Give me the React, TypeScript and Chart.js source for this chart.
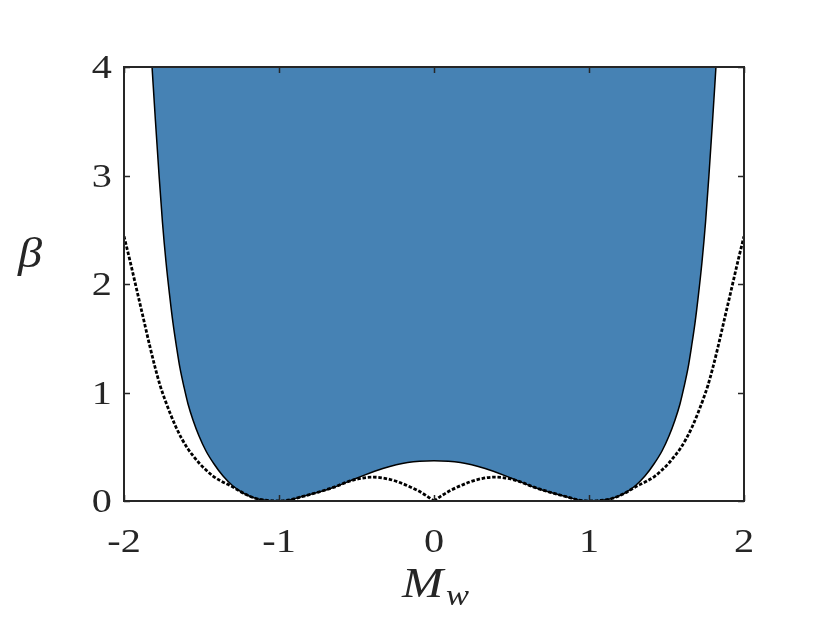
import { useEffect, useRef } from 'react';
import { Chart, registerables } from 'chart.js';

Chart.register(...registerables);

// Boundary curve (solid line, region above it is filled)
const solidM = [
  -1.819, -1.797, -1.774, -1.752, -1.729, -1.706, -1.684, -1.661, -1.639, -1.613, -1.587, -1.555,
  -1.516, -1.471, -1.419, -1.361, -1.297, -1.226, -1.148, -1.071, -1.0, -0.93, -0.865, -0.75, -0.65,
  -0.5, -0.33, -0.17, 0,
  0.17, 0.33, 0.5, 0.65, 0.75, 0.865, 0.93, 1.0, 1.071, 1.148, 1.226, 1.297, 1.361, 1.419, 1.471,
  1.516, 1.555, 1.587, 1.613, 1.639, 1.661, 1.684, 1.706, 1.729, 1.752, 1.774, 1.797, 1.819,
];
const solidBeta = [
  4.0, 3.5, 3.005, 2.571, 2.203, 1.899, 1.641, 1.419, 1.226, 1.051, 0.894, 0.747,
  0.599, 0.461, 0.341, 0.23, 0.138, 0.069, 0.023, 0.005, 0, 0.01, 0.035, 0.08, 0.125,
  0.21, 0.3, 0.355, 0.37,
  0.355, 0.3, 0.21, 0.125, 0.08, 0.035, 0.01, 0, 0.005, 0.023, 0.069, 0.138, 0.23, 0.341, 0.461,
  0.599, 0.747, 0.894, 1.051, 1.226, 1.419, 1.641, 1.899, 2.203, 2.571, 3.005, 3.5, 4.0,
];

// Dotted curve, left branch (M <= 0)
const dottedLeftM = [
  -2.0, -1.961, -1.916, -1.877, -1.832, -1.8, -1.768, -1.735, -1.703, -1.665, -1.626, -1.587,
  -1.548, -1.51, -1.471, -1.426, -1.374, -1.316, -1.226, -1.148, -1.071, -1.0, -0.93, -0.865,
  -0.75, -0.65, -0.54, -0.46, -0.39, -0.31, -0.23, -0.11, -0.05, 0,
];
const dottedLeftBeta = [
  2.44, 2.212, 1.935, 1.696, 1.419, 1.235, 1.069, 0.931, 0.811, 0.682, 0.571, 0.479,
  0.406, 0.341, 0.286, 0.23, 0.184, 0.143, 0.069, 0.023, 0.005, 0, 0.01, 0.035,
  0.08, 0.125, 0.185, 0.212, 0.22, 0.207, 0.175, 0.1, 0.05, 0,
];

// Dotted curve, right branch (M >= 0)
const dottedRightM = [
  0, 0.05, 0.11, 0.23, 0.31, 0.39, 0.46, 0.54, 0.65, 0.75, 0.865, 0.93, 1.0, 1.071, 1.148, 1.226,
  1.316, 1.374, 1.426, 1.471, 1.51, 1.548, 1.587, 1.626, 1.665, 1.703, 1.735, 1.768, 1.8, 1.832,
  1.877, 1.916, 1.961, 2.0,
];
const dottedRightBeta = [
  0, 0.05, 0.1, 0.175, 0.207, 0.22, 0.212, 0.185, 0.125, 0.08, 0.035, 0.01, 0, 0.005, 0.023, 0.069,
  0.143, 0.184, 0.23, 0.286, 0.341, 0.406, 0.479, 0.571, 0.682, 0.811, 0.931, 1.069, 1.235, 1.419,
  1.696, 1.935, 2.212, 2.44,
];

const xTickValues = [-2, -1, 0, 1, 2];
const xTickLabels = ['-2', '-1', '0', '1', '2'];
const yTickValues = [0, 1, 2, 3, 4];
const yTickLabels = ['0', '1', '2', '3', '4'];

const TEXT = '#262626';
const FILL = '#4682b4';
const SERIF = '"Liberation Serif", "DejaVu Serif", serif';

function pts(xs: number[], ys: number[]) {
  return xs.map((x, i) => ({ x, y: ys[i] }));
}

function drawStretched(
  ctx: CanvasRenderingContext2D,
  text: string,
  x: number,
  y: number,
  font: string,
  align: CanvasTextAlign,
  sx: number
) {
  ctx.save();
  ctx.translate(x, y);
  ctx.scale(sx, 1);
  ctx.font = font;
  ctx.textAlign = align;
  ctx.textBaseline = 'alphabetic';
  ctx.fillStyle = TEXT;
  ctx.fillText(text, 0, 0);
  ctx.restore();
}

const framePlugin = {
  id: 'matlabFrame',
  afterDatasetsDraw(chart: any) {
    const { ctx, chartArea, scales } = chart;
    const { left, right, top, bottom } = chartArea;
    const xs = scales.x;
    const ys = scales.y;
    ctx.save();
    ctx.strokeStyle = TEXT;
    ctx.lineWidth = 1.5;
    const tl = 6;
    ctx.beginPath();
    xTickValues.forEach((v) => {
      const px = Math.round(xs.getPixelForValue(v)) + 0.5;
      ctx.moveTo(px, bottom);
      ctx.lineTo(px, bottom - tl);
      ctx.moveTo(px, top);
      ctx.lineTo(px, top + tl);
    });
    yTickValues.forEach((v) => {
      const py = Math.round(ys.getPixelForValue(v)) + 0.5;
      ctx.moveTo(left, py);
      ctx.lineTo(left + tl, py);
      ctx.moveTo(right, py);
      ctx.lineTo(right - tl, py);
    });
    ctx.stroke();
    ctx.lineWidth = 2;
    ctx.strokeRect(left, top, right - left, bottom - top);

    const tickFont = `33px ${SERIF}`;
    xTickValues.forEach((v, i) => {
      const px = xs.getPixelForValue(v);
      drawStretched(ctx, xTickLabels[i], px, bottom + 51, tickFont, 'center', 1.22);
    });
    yTickValues.forEach((v, i) => {
      const py = ys.getPixelForValue(v);
      drawStretched(ctx, yTickLabels[i], left - 12, py + 11, tickFont, 'right', 1.22);
    });

    // axis labels
    drawStretched(ctx, 'β', 30, 267, `italic 42px ${SERIF}`, 'center', 1.15);
    drawStretched(ctx, 'M', 402, 597, `italic 43px ${SERIF}`, 'left', 1.15);
    drawStretched(ctx, 'w', 446, 605, `italic 30px ${SERIF}`, 'left', 1.15);
    ctx.restore();
  },
};

export default function App() {
  const canvasRef = useRef<HTMLCanvasElement | null>(null);

  useEffect(() => {
    const canvas = canvasRef.current;
    if (!canvas) return;
    let chart: Chart | null = null;
    let cancelled = false;

    const build = () => {
      if (cancelled) return;
      chart = new Chart(canvas, {
        type: 'line',
        data: {
          datasets: [
            {
              label: 'boundary',
              data: pts(solidM, solidBeta),
              borderColor: '#000000',
              borderWidth: 1.5,
              backgroundColor: FILL,
              fill: 'end',
              pointRadius: 0,
              cubicInterpolationMode: 'monotone',
              order: 2,
            },
            {
              label: 'dotted-left',
              data: pts(dottedLeftM, dottedLeftBeta),
              borderColor: '#000000',
              borderWidth: 2.8,
              borderDash: [3.5, 1.8],
              fill: false,
              pointRadius: 0,
              cubicInterpolationMode: 'monotone',
              order: 1,
            },
            {
              label: 'dotted-right',
              data: pts(dottedRightM, dottedRightBeta),
              borderColor: '#000000',
              borderWidth: 2.8,
              borderDash: [3.5, 1.8],
              fill: false,
              pointRadius: 0,
              cubicInterpolationMode: 'monotone',
              order: 1,
            },
          ],
        },
        options: {
          animation: false,
          responsive: true,
          maintainAspectRatio: false,
          layout: { padding: { left: 124, right: 86, top: 67, bottom: 123 } },
          plugins: {
            legend: { display: false },
            tooltip: { enabled: false },
          },
          scales: {
            x: { type: 'linear', min: -2, max: 2, display: false },
            y: { type: 'linear', min: 0, max: 4, display: false },
          },
        },
        plugins: [framePlugin],
      });
    };

    const fontsApi = (document as any).fonts;
    if (fontsApi && fontsApi.load) {
      Promise.all([
        fontsApi.load('33px "Liberation Serif"'),
        fontsApi.load('italic 42px "Liberation Serif"'),
      ])
        .catch(() => null)
        .then(() => build());
    } else {
      build();
    }

    return () => {
      cancelled = true;
      if (chart) chart.destroy();
    };
  }, []);

  return (
    <div style={{ position: 'fixed', left: 0, top: 0, width: 830, height: 624, background: '#ffffff' }}>
      <canvas ref={canvasRef} />
    </div>
  );
}
